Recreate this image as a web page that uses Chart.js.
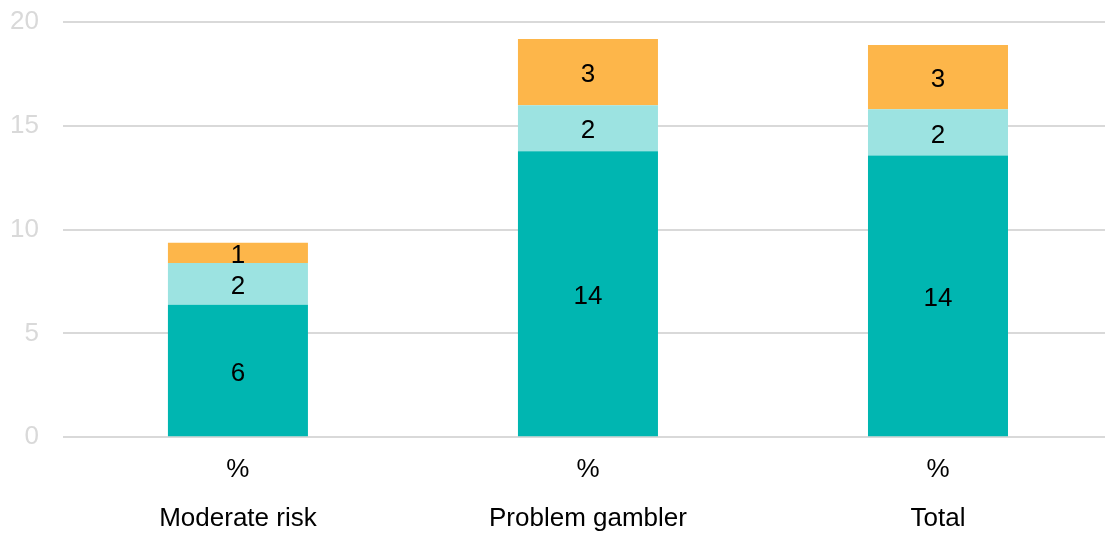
<!DOCTYPE html>
<html>
<head>
<meta charset="utf-8">
<script src="https://cdn.jsdelivr.net/npm/chart.js@4"></script>
<style>
  html, body { margin: 0; padding: 0; background: #fff; overflow: hidden; }
  #wrap { width: 1113px; height: 551px; position: relative; }
</style>
</head>
<body>
<div id="wrap"><canvas id="c" width="1113" height="551"></canvas></div>
<script>
const categories = [["%", "Moderate risk"], ["%", "Problem gambler"], ["%", "Total"]];
const seriesA = [6.38, 13.77, 13.57];
const seriesB = [2.01, 2.22, 2.23];
const seriesC = [0.98, 3.19, 3.09];
const yTicks = [0, 5, 10, 15, 20];

const FONT = "'Liberation Sans', Arial, sans-serif";

const labelPlugin = {
  id: 'segLabels',
  afterDatasetsDraw(chart) {
    const ctx = chart.ctx;
    ctx.save();
    ctx.font = "26px " + FONT;
    ctx.fillStyle = '#000';
    ctx.textAlign = 'center';
    ctx.textBaseline = 'middle';
    chart.data.datasets.forEach((ds, di) => {
      const meta = chart.getDatasetMeta(di);
      meta.data.forEach((bar, i) => {
        const v = ds.data[i];
        const p = bar.getProps(['x', 'y', 'base'], true);
        ctx.fillText(String(Math.round(v)), p.x, (p.y + p.base) / 2 + 3);
      });
    });
    ctx.restore();
  }
};

new Chart(document.getElementById('c'), {
  type: 'bar',
  data: {
    labels: categories,
    datasets: [
      { data: seriesA, backgroundColor: '#00B6B1' },
      { data: seriesB, backgroundColor: '#9CE3E1' },
      { data: seriesC, backgroundColor: '#FDB64A' }
    ]
  },
  options: {
    responsive: false,
    animation: false,
    devicePixelRatio: 1,
    layout: { padding: { top: 0, left: -14, right: 0, bottom: 0 } },
    datasets: { bar: { categoryPercentage: 1, barPercentage: 0.4, borderWidth: 0 } },
    plugins: { legend: { display: false }, tooltip: { enabled: false } },
    scales: {
      x: {
        stacked: true,
        grid: { display: false, drawTicks: false },
        border: { display: false },
        ticks: { color: '#000', font: { family: FONT, size: 26, lineHeight: 1.88 }, padding: 8, maxRotation: 0, autoSkip: false }
      },
      y: {
        stacked: true,
        min: 0, max: 20,
        afterBuildTicks(axis) { axis.ticks = yTicks.map(v => ({ value: v })); },
        afterFit(axis) { axis.paddingTop = 22; },
        grid: { color: '#d9d9d9', lineWidth: 2, drawTicks: false },
        border: { display: false },
        ticks: { color: '#d9d9d9', font: { family: FONT, size: 26 }, padding: 24 }
      }
    }
  },
  plugins: [labelPlugin]
});
</script>
</body>
</html>
